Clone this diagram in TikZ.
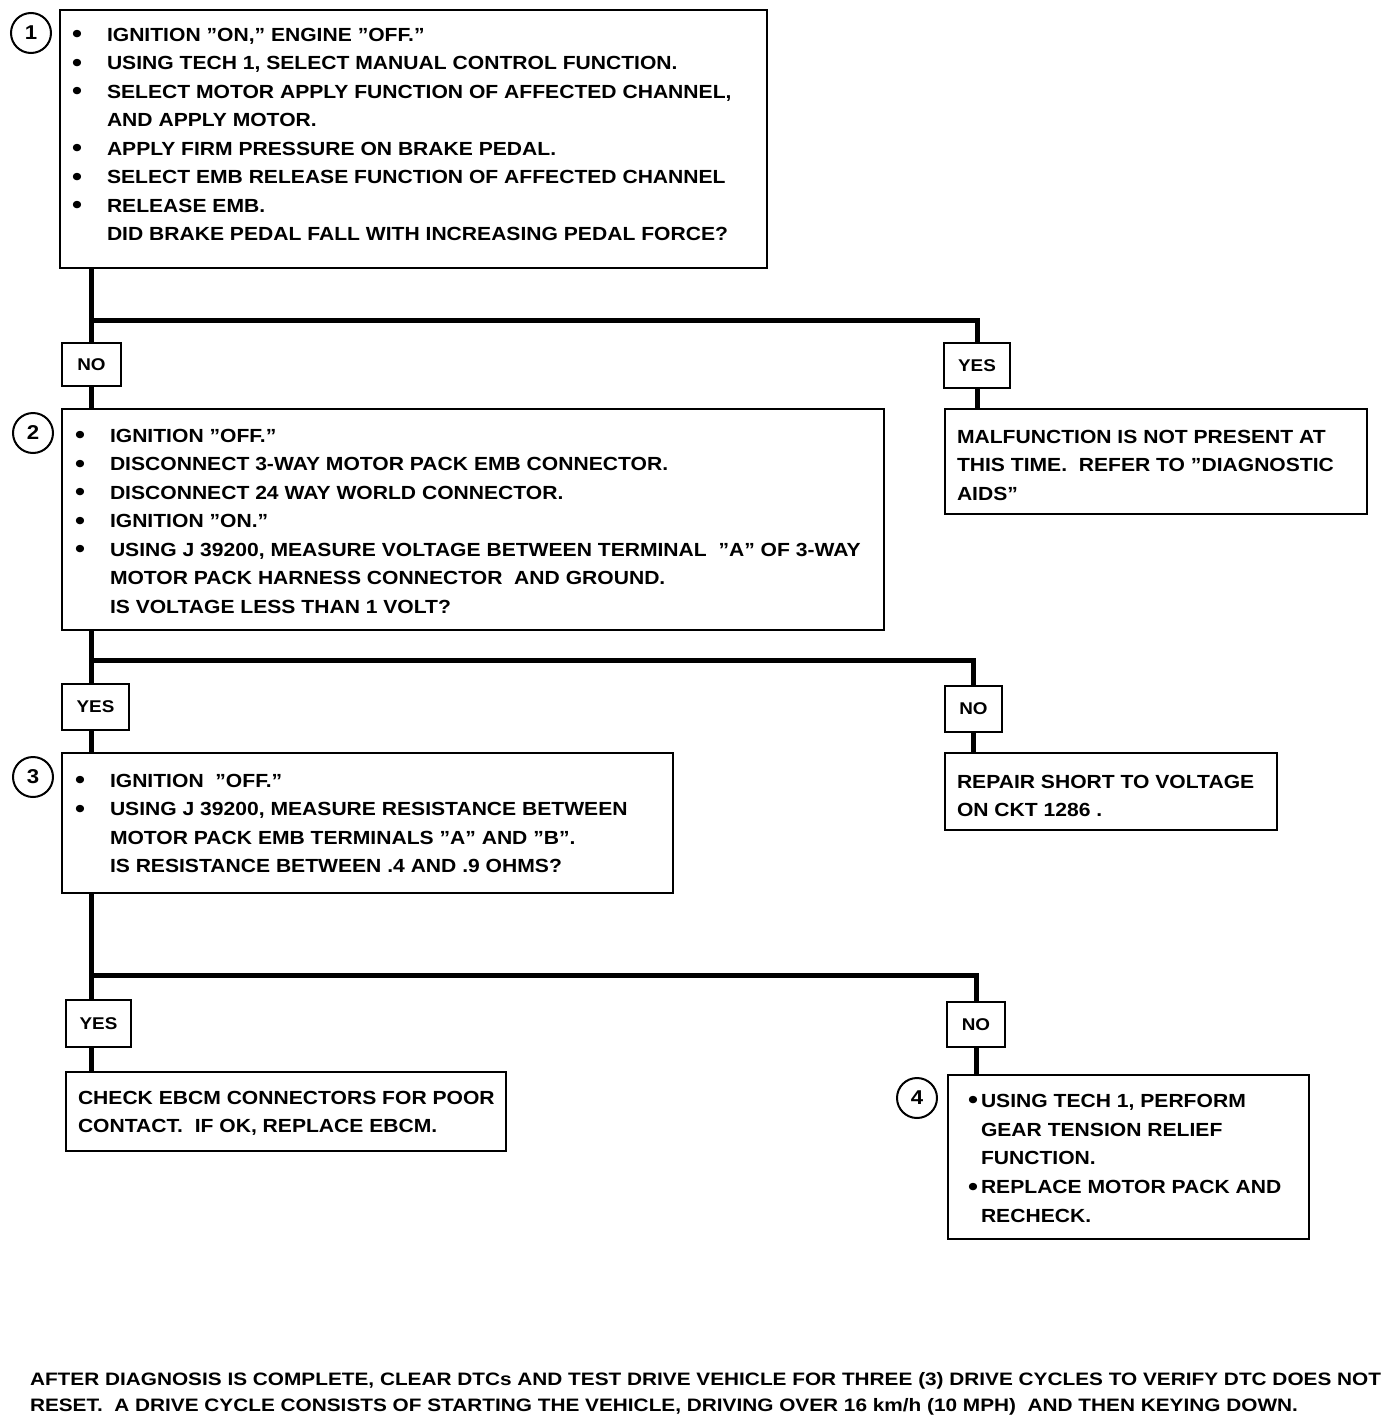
\documentclass[tikz,border=0pt]{standalone}
\usepackage{fontspec}
\setmainfont{Liberation Sans}[FakeStretch=1.11]
\newfontfamily\footfont{Liberation Sans}[FakeStretch=1.155]
\newcommand\bigbul{\raisebox{-0.09em}{\scalebox{1.35}{\textbullet}}}
\newcommand\mybul{\llap{\bigbul\hspace{25pt}}}
\begin{document}
\begin{tikzpicture}[x=1pt,y=-1pt,
  box/.style={draw, line width=2.5pt, rectangle, inner sep=0pt, outer sep=0pt, anchor=north west},
  lab/.style={draw, line width=2.5pt, rectangle, inner sep=0pt, outer sep=0pt, anchor=north west,
              font=\bfseries\fontsize{17}{20}\selectfont},
  txt/.style={anchor=north west, align=left, inner sep=0pt, outer sep=0pt},
  num/.style={draw, circle, line width=2pt, minimum size=40pt, inner sep=0pt,
              font=\bfseries\fontsize{20}{22}\selectfont},
  conn/.style={line width=5pt}]
\useasboundingbox (0,0) rectangle (1392,1424);

% boxes
\node[box, minimum width=707pt, minimum height=258pt] (b1) at (60,10) {};
\node[box, minimum width=822pt, minimum height=221pt] (b2) at (62,409) {};
\node[box, minimum width=611pt, minimum height=140pt] (b3) at (62,753) {};
\node[box, minimum width=422pt, minimum height=105pt] (mal) at (945,409) {};
\node[box, minimum width=332pt, minimum height=77pt] (rep) at (945,753) {};
\node[box, minimum width=440pt, minimum height=79pt] (chk) at (66,1072) {};
\node[box, minimum width=361pt, minimum height=164pt] (b4) at (948,1075) {};

% labels
\node[lab, minimum width=59pt, minimum height=43pt] (no1) at (62,343) {NO};
\node[lab, minimum width=66pt, minimum height=45pt] (yes1) at (944,343) {YES};
\node[lab, minimum width=67pt, minimum height=46pt] (yes2) at (62,684) {YES};
\node[lab, minimum width=57pt, minimum height=46pt] (no2) at (945,686) {NO};
\node[lab, minimum width=65pt, minimum height=47pt] (yes3) at (66,1000) {YES};
\node[lab, minimum width=58pt, minimum height=45pt] (no3) at (947,1002) {NO};

% numbers
\node[num] (c1) at (31,33) {1};
\node[num] (c2) at (33,433) {2};
\node[num] (c3) at (33,777) {3};
\node[num] (c4) at (917,1098) {4};

\tikzset{every node/.append style={font=\bfseries\fontsize{19}{28.5}\selectfont}}

% texts
\node[txt] (t1) at (107,28) {\mybul IGNITION "ON," ENGINE "OFF."\\
\mybul USING TECH 1, SELECT MANUAL CONTROL FUNCTION.\\
\mybul SELECT MOTOR APPLY FUNCTION OF AFFECTED CHANNEL,\\
AND APPLY MOTOR.\\
\mybul APPLY FIRM PRESSURE ON BRAKE PEDAL.\\
\mybul SELECT EMB RELEASE FUNCTION OF AFFECTED CHANNEL\\
\mybul RELEASE EMB.\\
DID BRAKE PEDAL FALL WITH INCREASING PEDAL FORCE?};

\node[txt] (t2) at (110,429) {\mybul IGNITION "OFF."\\
\mybul DISCONNECT 3-WAY MOTOR PACK EMB CONNECTOR.\\
\mybul DISCONNECT 24 WAY WORLD CONNECTOR.\\
\mybul IGNITION "ON."\\
\mybul USING J 39200, MEASURE VOLTAGE BETWEEN TERMINAL\ \ "A"\ OF 3-WAY\\
MOTOR PACK HARNESS CONNECTOR\ \ AND GROUND.\\
IS VOLTAGE LESS THAN 1 VOLT?};

\node[txt] (t3) at (110,774) {\mybul IGNITION\ \ "OFF."\\
\mybul USING J 39200, MEASURE RESISTANCE BETWEEN\\
MOTOR PACK EMB TERMINALS "A" AND "B".\\
IS RESISTANCE BETWEEN .4 AND .9 OHMS?};

\node[txt] (tm) at (957,430) {MALFUNCTION IS NOT PRESENT AT\\
THIS TIME.\ \ REFER TO "DIAGNOSTIC\\
AIDS"};

\node[txt] (tr) at (957,775) {REPAIR SHORT TO VOLTAGE\\
ON CKT 1286 .};

\node[txt] (tc) at (78,1091) {CHECK EBCM CONNECTORS FOR POOR\\
CONTACT.\ \ IF OK, REPLACE EBCM.};

\node[txt, font=\bfseries\fontsize{19}{28.75}\selectfont] (t4) at (981,1094) {\llap{\bigbul\hspace{3pt}}USING TECH 1, PERFORM\\
GEAR TENSION RELIEF\\
FUNCTION.\\
\llap{\bigbul\hspace{3pt}}REPLACE MOTOR PACK AND\\
RECHECK.};

\node[txt, font=\footfont\bfseries\fontsize{18}{26}\selectfont] (foot) at (30,1372) {AFTER DIAGNOSIS IS COMPLETE, CLEAR DTCs AND TEST DRIVE VEHICLE FOR THREE (3) DRIVE CYCLES TO VERIFY DTC DOES NOT\\
RESET.\ \ A DRIVE CYCLE CONSISTS OF STARTING THE VEHICLE, DRIVING OVER 16 km/h (10 MPH)\ \ AND THEN KEYING DOWN.};

% connectors
\coordinate (j1) at (91,320);
\coordinate (j2) at (91,660);
\coordinate (j3) at (91,975);
\draw[conn] (b1.south -| j1) -- (no1.north -| j1);
\draw[conn] (j1) -| (yes1.north);
\draw[conn] (no1.south -| j1) -- (b2.north -| j1);
\draw[conn] (yes1.south) -- (mal.north -| yes1.south);

\draw[conn] (b2.south -| j2) -- (yes2.north -| j2);
\draw[conn] (j2) -| (no2.north);
\draw[conn] (yes2.south -| j2) -- (b3.north -| j2);
\draw[conn] (no2.south) -- (rep.north -| no2.south);

\draw[conn] (b3.south -| j3) -- (yes3.north -| j3);
\draw[conn] (j3) -| (no3.north);
\draw[conn] (yes3.south -| j3) -- (chk.north -| j3);
\draw[conn] (no3.south) -- (b4.north -| no3.south);
\end{tikzpicture}
\end{document}
